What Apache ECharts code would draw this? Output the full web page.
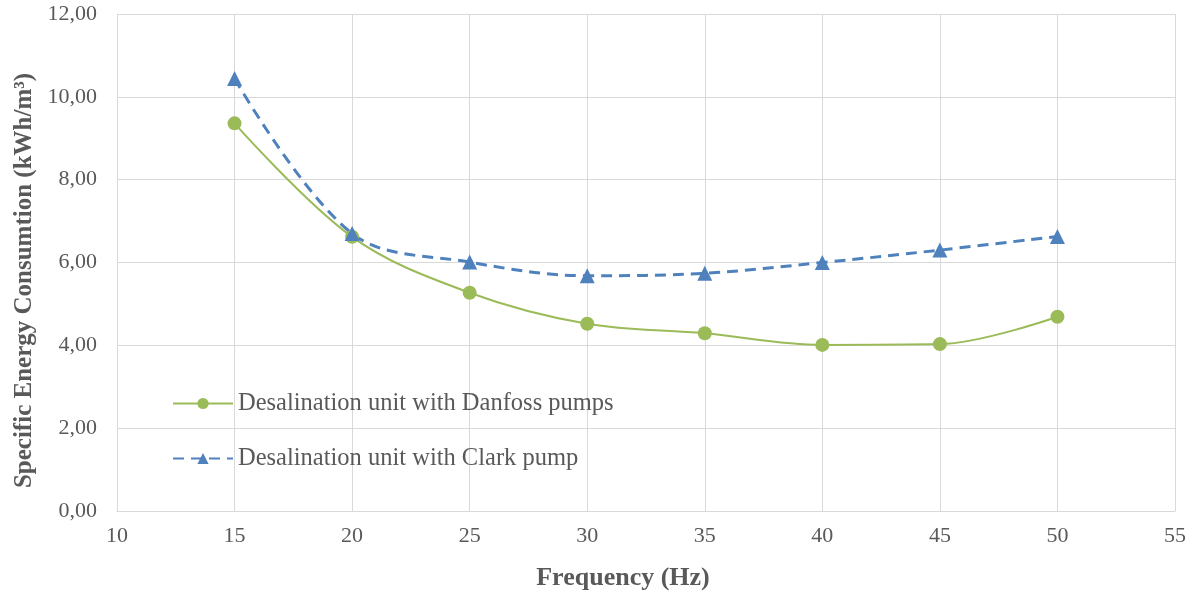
<!DOCTYPE html>
<html>
<head>
<meta charset="utf-8">
<script src="https://cdn.jsdelivr.net/npm/echarts@6/dist/echarts.min.js"></script>
<style>
  html, body { margin: 0; padding: 0; background: #fff; }
  #chart { width: 1193px; height: 597px; }
</style>
</head>
<body>
<div id="chart"></div>
<script>
  // frequency (Hz) and specific energy consumption (kWh/m3)
  var freq = [15, 20, 25, 30, 35, 40, 45, 50];
  var danfoss = [9.36, 6.62, 5.27, 4.52, 4.29, 4.01, 4.03, 4.69];
  var clark = [10.44, 6.70, 6.01, 5.68, 5.74, 6.00, 6.30, 6.63];
  var danfossName = 'Desalination unit with Danfoss pumps';
  var clarkName = 'Desalination unit with Clark pump';

  function pairs(xs, ys) {
    return xs.map(function (x, i) { return [x, ys[i]]; });
  }

  var grey = '#595959';
  var font = '"Liberation Serif", "Times New Roman", serif';
  var chart = echarts.init(document.getElementById('chart'));
  var option = {
    animation: false,
    textStyle: { fontFamily: font },
    grid: { left: 117, right: 18, top: 14, bottom: 86, outerBoundsMode: 'none' },
    legend: {
      orient: 'vertical',
      left: 167,
      top: 386,
      itemGap: 30,
      itemWidth: 60,
      itemHeight: 14,
      textStyle: { color: grey, fontSize: 24.5, fontFamily: font },
      data: [danfossName, clarkName]
    },
    xAxis: {
      type: 'value',
      min: 10,
      max: 55,
      interval: 5,
      name: 'Frequency (Hz)',
      nameLocation: 'middle',
      nameGap: 54,
      nameTextStyle: { color: grey, fontSize: 26, fontWeight: 'bold', fontFamily: font, padding: [0, 46, 0, 0] },
      axisLine: { show: true, lineStyle: { color: '#d9d9d9' } },
      axisTick: { show: false },
      axisLabel: { color: grey, fontSize: 22, margin: 14, fontFamily: font },
      splitLine: { show: true, lineStyle: { color: '#d9d9d9' } }
    },
    yAxis: {
      type: 'value',
      min: 0,
      max: 12,
      interval: 2,
      name: 'Specific Energy Consumtion (kWh/m³)',
      nameLocation: 'middle',
      nameGap: 71,
      nameTextStyle: { color: grey, fontSize: 25, fontWeight: 'bold', fontFamily: font, padding: [0, 36, 0, 0] },
      axisLine: { show: true, lineStyle: { color: '#d9d9d9' } },
      axisTick: { show: false },
      axisLabel: {
        color: grey, fontSize: 22, margin: 20, fontFamily: font,
        formatter: function (v) { return v.toFixed(2).replace('.', ','); }
      },
      splitLine: { show: true, lineStyle: { color: '#d9d9d9' } }
    },
    series: [
      {
        name: danfossName,
        type: 'line',
        smooth: 0.35,
        data: pairs(freq, danfoss),
        symbol: 'circle',
        symbolSize: 14,
        itemStyle: { color: '#9bbb59' },
        lineStyle: { color: '#9bbb59', width: 2 }
      },
      {
        name: clarkName,
        type: 'line',
        smooth: 0.35,
        data: pairs(freq, clark),
        symbol: 'triangle',
        symbolSize: 15,
        itemStyle: { color: '#4f81bd' },
        lineStyle: { color: '#4f81bd', width: 3, type: [11, 7] }
      }
    ]
  };
  chart.setOption(option);
</script>
</body>
</html>
